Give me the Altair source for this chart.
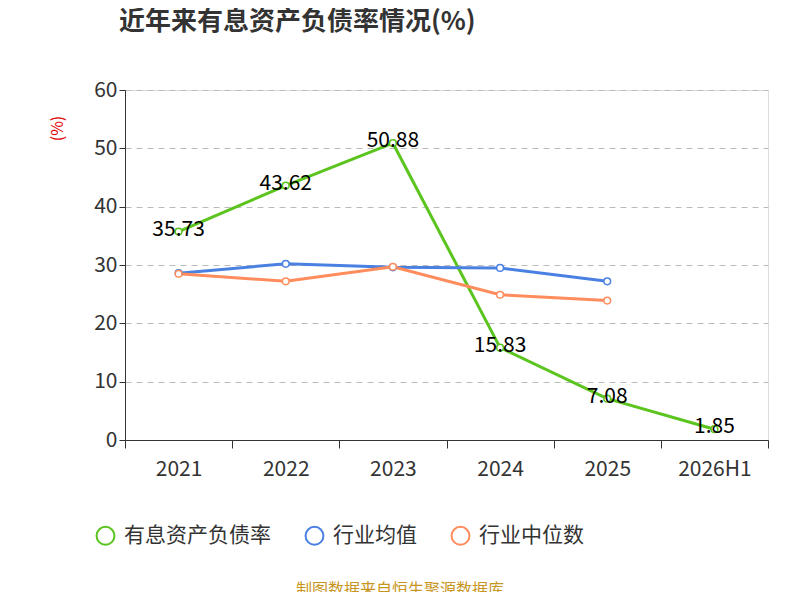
import altair as alt
import pandas as pd

years = ["2021", "2022", "2023", "2024", "2025", "2026H1"]
debt = [35.73, 43.62, 50.88, 15.83, 7.08, 1.85]
avg = [28.6, 30.2, 29.6, 29.5, 27.2, None]
med = [28.5, 27.2, 29.7, 24.9, 23.9, None]
series = ["有息资产负债率", "行业均值", "行业中位数"]
colors = ["#5bc41e", "#4a80e2", "#ff8c5c"]

rows = []
for i, y in enumerate(years):
    for s, vals in zip(series, [debt, avg, med]):
        if vals[i] is not None:
            rows.append({"year": y, "series": s, "value": vals[i]})
df = pd.DataFrame(rows)
lab = pd.DataFrame({"year": years, "value": debt, "label": [f"{v:.2f}" for v in debt]})

x = alt.X("year:N", sort=years, title=None,
          scale=alt.Scale(type="band", paddingInner=0, paddingOuter=0),
          axis=alt.Axis(tickBand="extent", labelFontSize=21, labelColor="#333",
                        labelPadding=10, tickSize=8, domainColor="#333", tickColor="#333", labelAngle=0))
y = alt.Y("value:Q", scale=alt.Scale(domain=[0, 60]), title="(%)",
          axis=alt.Axis(values=[0, 10, 20, 30, 40, 50, 60], labelFontSize=21, labelColor="#333",
                        titleColor="#e00000", titleFontSize=16, titleFontWeight="normal",
                        titleAngle=-90, titleX=-60, titleY=38,
                        grid=True, gridDash=[6, 5], gridColor="#bbb",
                        domain=True, domainColor="#333", tickColor="#333", tickSize=6))

sc = alt.Scale(domain=series, range=colors)
color = alt.Color("series:N", sort=series, scale=sc,
                  legend=alt.Legend(title=None, orient="none", legendX=-30, legendY=435,
                                    direction="horizontal", labelFontSize=21, labelColor="#333",
                                    symbolType="circle", symbolSize=320, symbolStrokeWidth=2,
                                    symbolFillColor="white", columnPadding=30, labelOffset=8))

lines = alt.Chart(df).mark_line(strokeWidth=3).encode(x=x, y=y, color=color)
pts = alt.Chart(df).mark_point(filled=True, fill="white", size=45, strokeWidth=1.5, opacity=1).encode(
    x=x, y=y, stroke=alt.Color("series:N", sort=series, scale=sc, legend=None))
labels = alt.Chart(lab).mark_text(fontSize=21, color="#000", dy=-2).encode(
    x=x, y=y, text="label:N")
src = alt.Chart(pd.DataFrame({"t": ["制图数据来自恒生聚源数据库"]})).mark_text(
    fontSize=16, color="#c8961e").encode(x=alt.value(275), y=alt.value(500), text="t:N")

chart = alt.layer(lines, pts, labels, src).properties(
    width=643, height=350,
    autosize=alt.AutoSizeParams(type="none"),
    padding={"left": 117, "top": 82, "right": 24, "bottom": 152},
    title=alt.Title("近年来有息资产负债率情况(%)", fontSize=26, fontWeight="bold", color="#333",
                    anchor="start", dx=70, offset=44),
).configure_view(stroke=None).configure(font="Noto Sans CJK SC")

chart.save("out.html", embed_options={"renderer": "svg", "actions": False})
